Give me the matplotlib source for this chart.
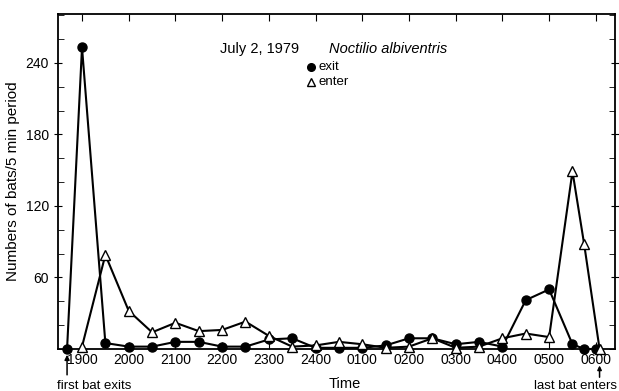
import numpy as np
import matplotlib.pyplot as plt
from matplotlib.ticker import MultipleLocator

plt.rcParams['font.family'] = ['Liberation Sans', 'DejaVu Sans']

# hours after 1900
exit_t = [-0.32, 0, 0.5, 1, 1.5, 2, 2.5, 3, 3.5, 4, 4.5, 5, 5.5, 6, 6.5, 7, 7.5,
          8, 8.5, 9, 9.5, 10, 10.5, 10.75, 11.0]
exit_n = [0, 253, 5, 2, 2, 6, 6, 2, 2, 8, 9, 1, 1, 1, 3, 9, 9, 4, 6,
          2, 41, 50, 4, 0, 0]
enter_t = [0, 0.5, 1, 1.5, 2, 2.5, 3, 3.5, 4, 4.5, 5, 5.5, 6, 6.5, 7, 7.5,
           8, 8.5, 9, 9.5, 10, 10.5, 10.75, 11.08]
enter_n = [2, 79, 32, 14, 22, 15, 16, 23, 11, 2, 3, 6, 4, 1, 2, 9, 1, 2,
           9, 13, 10, 149, 88, 0]
tick_labels = ['1900', '2000', '2100', '2200', '2300', '2400', '0100',
               '0200', '0300', '0400', '0500', '0600']

fig = plt.figure(figsize=(6.19, 3.91), dpi=100)
ax = fig.add_axes([0.0937, 0.1074, 0.8998, 0.8566])

ax.plot(exit_t, exit_n, '-o', c='black', lw=1.5, ms=6.5, clip_on=False, zorder=3)
ax.plot(enter_t, enter_n, '-^', c='black', mfc='white', mec='black', lw=1.5,
        ms=7, clip_on=False, zorder=4)

ax.set_xlim(-0.514, 11.41)
ax.set_ylim(0, 281)
ax.set_xticks(np.arange(12))
ax.set_xticklabels(tick_labels, fontsize=10)
ax.set_yticks([60, 120, 180, 240])
ax.yaxis.set_minor_locator(MultipleLocator(20))
ax.tick_params(axis='x', direction='in', length=5, top=True, pad=3)
ax.tick_params(axis='y', which='major', direction='inout', length=6, labelsize=10,
               right=True)
ax.tick_params(axis='y', which='minor', direction='in', length=4, right=True)
for s in ax.spines.values():
    s.set_linewidth(1.3)

ax.set_ylabel('Numbers of bats/5 min period', fontsize=11)
ax.set_xlabel('Time', fontsize=10.5, labelpad=6)
ax.xaxis.set_label_coords(0.515, -0.085)

ax.text(0.290, 0.885, 'July 2, 1979', transform=ax.transAxes, fontsize=10.5)
ax.text(0.487, 0.885, 'Noctilio albiventris', transform=ax.transAxes,
        fontsize=10.5, style='italic')
ax.plot([0.455], [0.842], 'o', c='black', ms=5.5, transform=ax.transAxes, clip_on=False)
ax.text(0.468, 0.842, 'exit', transform=ax.transAxes, fontsize=9.5, va='center')
ax.plot([0.455], [0.797], '^', c='black', mfc='white', ms=5.5,
        transform=ax.transAxes, clip_on=False)
ax.text(0.468, 0.797, 'enter', transform=ax.transAxes, fontsize=9.5, va='center')

ax.annotate('', xy=(-0.32, -2.5), xytext=(-0.32, -24), xycoords='data',
            textcoords='data', annotation_clip=False,
            arrowprops=dict(arrowstyle='-|>', color='black', lw=1.1, mutation_scale=7))
fig.text(57 / 619, 1 - 386 / 391, 'first bat exits', fontsize=9.5, ha='left', va='center')
ax.annotate('', xy=(11.08, -11.5), xytext=(11.08, -26), xycoords='data',
            textcoords='data', annotation_clip=False,
            arrowprops=dict(arrowstyle='-|>', color='black', lw=1.1, mutation_scale=6))
fig.text(617 / 619, 1 - 386 / 391, 'last bat enters', fontsize=9.5, ha='right', va='center')

fig.savefig('out.png', dpi=100)
